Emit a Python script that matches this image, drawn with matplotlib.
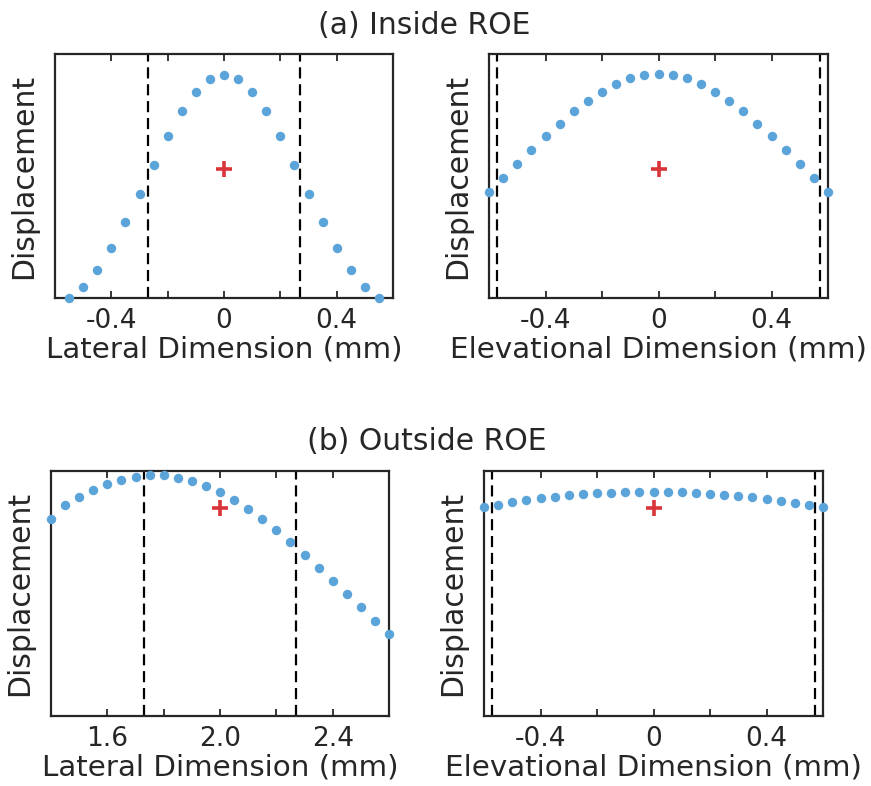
import matplotlib
matplotlib.use("Agg")
import matplotlib.pyplot as plt

plt.rcParams['font.family'] = ['DejaVu Sans']

# ---- data (normalised displacement) ----
lat_in_x = [-0.55, -0.50, -0.45, -0.40, -0.35, -0.30, -0.25, -0.20, -0.15, -0.10, -0.05, 0.00,
            0.05, 0.10, 0.15, 0.20, 0.25, 0.30, 0.35, 0.40, 0.45, 0.50, 0.55]
lat_in_y = [0.000, 0.045, 0.115, 0.205, 0.311, 0.425, 0.544, 0.662, 0.766, 0.845, 0.897, 0.915,
            0.897, 0.845, 0.766, 0.662, 0.544, 0.425, 0.311, 0.205, 0.115, 0.045, 0.000]

ele_x = [-0.60, -0.55, -0.50, -0.45, -0.40, -0.35, -0.30, -0.25, -0.20, -0.15, -0.10, -0.05, 0.00,
         0.05, 0.10, 0.15, 0.20, 0.25, 0.30, 0.35, 0.40, 0.45, 0.50, 0.55, 0.60]
ele_in_y = [0.434, 0.492, 0.550, 0.607, 0.662, 0.715, 0.766, 0.808, 0.845, 0.878, 0.900, 0.914, 0.919,
            0.914, 0.900, 0.878, 0.845, 0.808, 0.766, 0.715, 0.662, 0.607, 0.550, 0.492, 0.434]

lat_out_x = [1.40, 1.45, 1.50, 1.55, 1.60, 1.65, 1.70, 1.75, 1.80, 1.85, 1.90, 1.95, 2.00,
             2.05, 2.10, 2.15, 2.20, 2.25, 2.30, 2.35, 2.40, 2.45, 2.50, 2.55, 2.60]
lat_out_y = [0.804, 0.860, 0.893, 0.921, 0.946, 0.963, 0.976, 0.982, 0.982, 0.973, 0.959, 0.939, 0.913,
             0.883, 0.845, 0.803, 0.758, 0.711, 0.659, 0.606, 0.553, 0.496, 0.443, 0.387, 0.334]

ele_out_y = [0.852, 0.863, 0.872, 0.880, 0.889, 0.895, 0.901, 0.906, 0.909, 0.912, 0.913, 0.914, 0.914,
             0.914, 0.913, 0.912, 0.908, 0.904, 0.898, 0.893, 0.886, 0.879, 0.871, 0.863, 0.852]

# focal point (red cross) per panel
focus = [(0.0, 0.527), (0.0, 0.527), (2.0, 0.851), (0.0, 0.849)]
# ROE boundaries per panel
roe = [(-0.27, 0.27), (-0.57, 0.57), (1.73, 2.27), (-0.57, 0.57)]
xlims = [(-0.6, 0.6), (-0.6, 0.6), (1.4, 2.6), (-0.6, 0.6)]
xticks = [[-0.4, -0.2, 0, 0.2, 0.4], [-0.4, -0.2, 0, 0.2, 0.4],
          [1.6, 1.8, 2.0, 2.2, 2.4], [-0.4, -0.2, 0, 0.2, 0.4]]
xticklabels = [['-0.4', '', '0', '', '0.4'], ['-0.4', '', '0', '', '0.4'],
               ['1.6', '', '2.0', '', '2.4'], ['-0.4', '', '0', '', '0.4']]
xlabels = ['Lateral Dimension (mm)', 'Elevational Dimension (mm)',
           'Lateral Dimension (mm)', 'Elevational Dimension (mm)']
series = [(lat_in_x, lat_in_y), (ele_x, ele_in_y), (lat_out_x, lat_out_y), (ele_x, ele_out_y)]

W, H = 871, 786
fig = plt.figure(figsize=(W / 100, H / 100), dpi=100)

boxes = [(55, 54, 393, 298), (489, 54, 828, 298), (51, 471, 389, 716), (484, 471, 823, 716)]

dot_color = '#5BA4DA'
cross_color = '#D8343A'
frame_color = '#262626'
text_color = '#262626'

for i, (l, t, r, b) in enumerate(boxes):
    ax = fig.add_axes([l / W, (H - b) / H, (r - l) / W, (b - t) / H])
    x, y = series[i]
    for xv in roe[i]:
        ax.axvline(xv, color='black', lw=1.6, ls=(0, (5, 2.6)), zorder=1)
    ax.plot(x, y, 'o', color=dot_color, ms=6.8, mec='none', clip_on=False, zorder=3)
    fx, fy = focus[i]
    ax.plot([fx], [fy], '+', color=cross_color, ms=11, mew=2.6, zorder=4)
    ax.set_xlim(*xlims[i])
    ax.set_ylim(0, 1)
    ax.set_xticks(xticks[i])
    ax.set_xticklabels(xticklabels[i])
    ax.set_yticks([])
    ax.tick_params(axis='x', direction='in', top=True, length=5, width=1.3,
                   color=frame_color, labelsize=19, labelcolor=text_color, pad=7)
    for s in ax.spines.values():
        s.set_linewidth(1.6)
        s.set_color(frame_color)
    ax.set_xlabel(xlabels[i], fontsize=21.2, color=text_color, labelpad=1)
    ax.set_ylabel('Displacement', fontsize=21.5, color=text_color, labelpad=12)

fig.text(424 / W, 1 - 25 / H, '(a) Inside ROE', ha='center', va='center', fontsize=21.5, color=text_color)
fig.text(427 / W, 1 - 442 / H, '(b) Outside ROE', ha='center', va='center', fontsize=21.5, color=text_color)

fig.savefig('out.png', dpi=100)
